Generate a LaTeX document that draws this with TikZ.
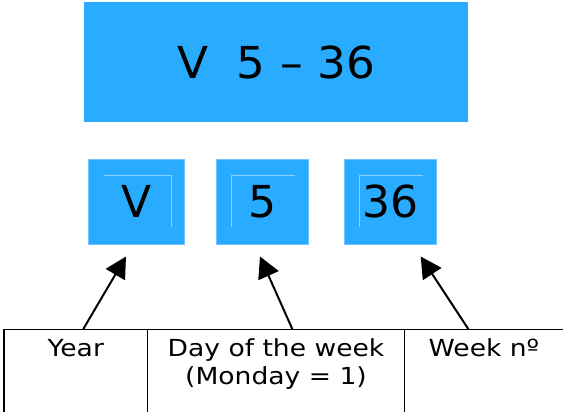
\documentclass[tikz,border=0pt]{standalone}
\usepackage{fontspec}
\setmainfont{DejaVu Sans}
\usetikzlibrary{arrows.meta}
\definecolor{boxblue}{RGB}{41,171,255}
\definecolor{edgeblue}{RGB}{112,198,255}
\definecolor{faintblue}{RGB}{135,208,255}
\newcommand{\widetext}[1]{\scalebox{1.13}[1]{#1}}
\begin{document}
\begin{tikzpicture}[x=1pt,y=-1pt,
  bigbox/.style={fill=boxblue, draw=none, inner sep=0pt, minimum width=384pt, minimum height=120pt, font=\fontsize{44}{52}\selectfont},
  digitbox/.style={fill=boxblue, draw=edgeblue, line width=0.8pt, inner sep=0pt, minimum height=85pt, font=\fontsize{44}{52}\selectfont},
  faint/.style={draw=faintblue, line width=0.6pt},
  celltext/.style={anchor=base, inner sep=0pt, align=center, font=\fontsize{23.5}{28.6}\selectfont},
  tableline/.style={line width=1.2pt, black},
  pointer/.style={line width=2pt, -{Triangle[length=21pt,width=22pt]}}
]
\useasboundingbox (0,0) rectangle (563,414);

% top code box
\node[bigbox] (code) at (276,62) {\scalebox{1.03}[1]{V\ \ 5 – 36}};

% three part boxes
\node[digitbox, minimum width=96pt] (year) at (136.3,201.5) {};
\node[digitbox, minimum width=92pt] (day) at (262.5,201.5) {};
\node[digitbox, minimum width=92pt] (week) at (390.5,201.5) {};

% faint inner text frames
\draw[faint] (104,175) -- (171,175) -- (171,227);
\draw[faint] (231.7,227) -- (231.7,175) -- (295,175);
\draw[faint] (359.3,227) -- (359.3,175) -- (422.7,175);

\node[font=\fontsize{44}{52}\selectfont, inner sep=0pt] (yeartxt) at (year.center) {V};
\node[font=\fontsize{44}{52}\selectfont, inner sep=0pt] (daytxt) at (day.center) {5};
\node[font=\fontsize{44}{52}\selectfont, inner sep=0pt] (weektxt) at (week.center) {36};

% table
\draw[tableline] (4,329.3) -- (563,329.3);
\draw[tableline] (4,329.3) -- (4,412);
\draw[tableline] (147.7,329.3) -- (147.7,412);
\draw[tableline] (404.7,329.3) -- (404.7,412);

\node[celltext] (yearcell) at (75.8,356.2) {\widetext{Year}};
\node[celltext] (daycell) at (276,384.8) {\widetext{Day of the week}\\\widetext{(Monday = 1)}};
\node[celltext] (weekcell) at (484,356.2) {\widetext{Week nº}};

% arrows
\coordinate (yeartail) at (83.3,329);
\coordinate (yeartip) at (126,256.5);
\coordinate (daytail) at (292.3,329);
\coordinate (daytip) at (260,256.5);
\coordinate (weektail) at (468.3,329);
\coordinate (weektip) at (420.7,256.5);
\draw[pointer] (yeartail) -- (yeartip);
\draw[pointer] (daytail) -- (daytip);
\draw[pointer] (weektail) -- (weektip);
\end{tikzpicture}
\end{document}
